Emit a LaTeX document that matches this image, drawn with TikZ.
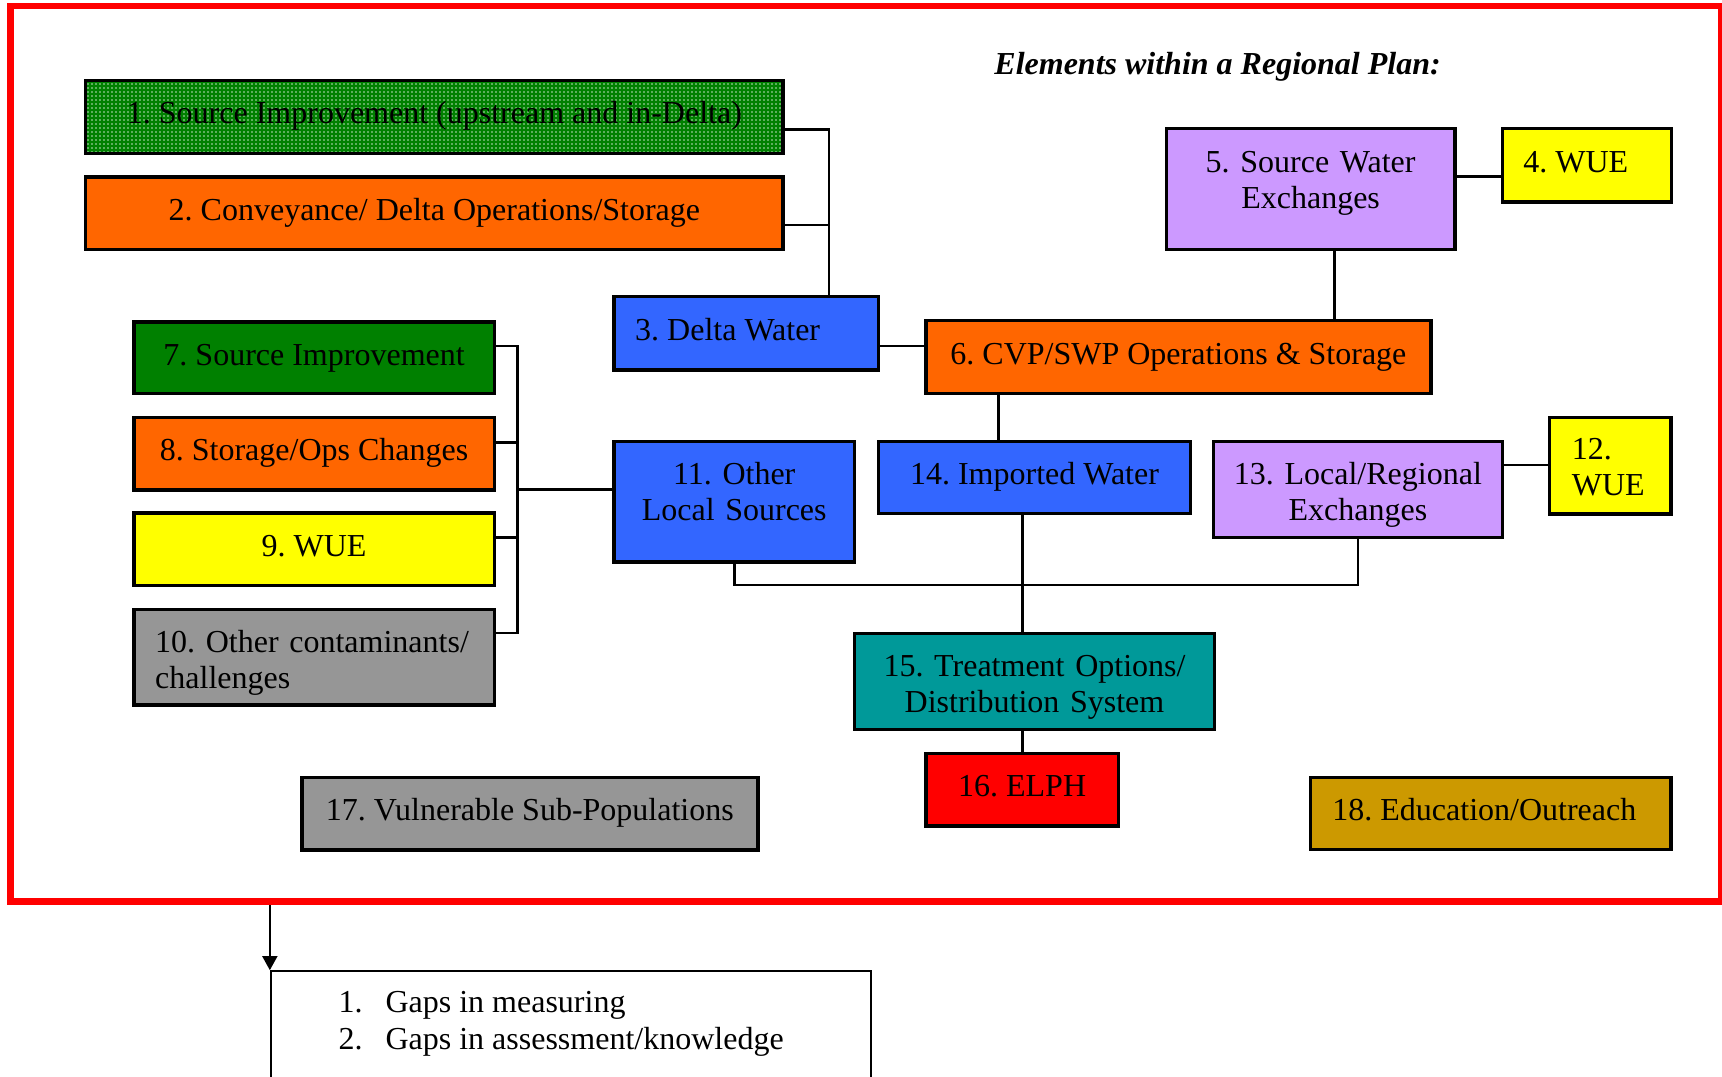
\documentclass[tikz,border=0pt]{standalone}
\usepackage{fontspec}
\setmainfont{Liberation Serif}
\usetikzlibrary{fit,arrows.meta,patterns.meta}
\definecolor{cgreen}{HTML}{008000}
\definecolor{corange}{HTML}{FF6600}
\definecolor{cblue}{HTML}{3366FF}
\definecolor{clav}{HTML}{CC99FF}
\definecolor{cyel}{HTML}{FFFF00}
\definecolor{cgray}{HTML}{969696}
\definecolor{cteal}{HTML}{009999}
\definecolor{cred}{HTML}{FF0000}
\definecolor{cgold}{HTML}{CC9900}
\frenchspacing
\begin{document}
\begin{tikzpicture}[x=0.5pt,y=-0.5pt,
  box/.style={draw=black, line width=1.7pt, inner sep=0pt, rectangle},
  txt/.style={inner sep=0pt, font=\fontsize{16pt}{18pt}\selectfont\frenchspacing},
  conn/.style={draw=black, line width=1.4pt},
  framebox/.style={draw=cred, line width=3.35pt, inner sep=0pt, rectangle},
  botbox/.style={draw=black, line width=0.85pt, inner sep=0pt, rectangle},
  arrowline/.style={draw=black, line width=0.85pt, -{Triangle[width=7.5pt,length=7pt]}}
]
\useasboundingbox (0,0) rectangle (1722,1076);

% frame
\node[framebox, fit={(10.7,6)(1721.5,901.7)}] (frame) {};

% title
\node[txt, anchor=base west] (title) at (994,74) {\bfseries\itshape Elements within a Regional Plan:};

% boxes
\node[box, preaction={fill=cgreen}, pattern={Dots[distance=2pt,radius=0.45pt]}, pattern color=white!75!cgreen, fit={(85.7,80.2)(783,153.7)}] (b1) {};
\node[box, fill=corange, fit={(85.7,176.8)(783,249.3)}] (b2) {};
\node[box, fill=cblue, fit={(613.9,296.5)(878.6,370)}] (b3) {};
\node[box, fill=cyel, fit={(1502.3,128.5)(1671.5,202)}] (b4) {};
\node[box, fill=clav, fit={(1166.3,128.5)(1455,249.3)}] (b5) {};
\node[box, fill=corange, fit={(925.8,320.7)(1431,393.2)}] (b6) {};
\node[box, fill=cgreen, fit={(134,321.8)(494.2,393.2)}] (b7) {};
\node[box, fill=corange, fit={(134,417.3)(494.2,489.8)}] (b8) {};
\node[box, fill=cyel, fit={(134,512.9)(494.2,585.3)}] (b9) {};
\node[box, fill=cgray, fit={(134,609.5)(494.2,705)}] (b10) {};
\node[box, fill=cblue, fit={(613.9,441.5)(854.4,562)}] (b11) {};
\node[box, fill=cyel, fit={(1549.6,417.3)(1671,514)}] (b12) {};
\node[box, fill=clav, fit={(1213.5,441.5)(1502.3,537.3)}] (b13) {};
\node[box, fill=cblue, fit={(878.6,441.5)(1190.5,513.5)}] (b14) {};
\node[box, fill=cteal, fit={(854.4,633.7)(1214.6,729.4)}] (b15) {};
\node[box, fill=cred, fit={(925.8,753.4)(1118.5,825.8)}] (b16) {};
\node[box, fill=cgray, fit={(302,777.5)(757.8,850)}] (b17) {};
\node[box, fill=cgold, fit={(1310.2,777.5)(1671,849.5)}] (b18) {};

% texts
\node[txt, anchor=base] (t1) at (434.4,123.5) {1. Source Improvement (upstream and in-Delta)};
\node[txt, anchor=base] (t2) at (434.4,220) {2. Conveyance/ Delta Operations/Storage};
\node[txt, anchor=base west] (t3) at (634.8,340) {3. Delta Water};
\node[txt, anchor=base west] (t4) at (1523,172) {4. WUE};
\node[txt, anchor=base, text width=130pt, align=center] (t5) at (1310.6,172) {5. Source Water\\Exchanges};
\node[txt, anchor=base] (t6) at (1178.4,364) {6. CVP/SWP Operations \& Storage};
\node[txt, anchor=base] (t7) at (314.1,365) {7. Source Improvement};
\node[txt, anchor=base] (t8) at (314.1,460.5) {8. Storage/Ops Changes};
\node[txt, anchor=base] (t9) at (314.1,556) {9. WUE};
\node[txt, anchor=base west, text width=170pt, align=left] (t10) at (154.8,652.5) {10. Other contaminants/\\challenges};
\node[txt, anchor=base, text width=115pt, align=center] (t11) at (734.2,484) {11. Other\\Local Sources};
\node[txt, anchor=base west, text width=50pt, align=left] (t12) at (1571.5,459.5) {12.\\WUE};
\node[txt, anchor=base, text width=140pt, align=center] (t13) at (1357.9,484) {13. Local/Regional\\Exchanges};
\node[txt, anchor=base] (t14) at (1034.5,484) {14. Imported Water};
\node[txt, anchor=base, text width=170pt, align=center] (t15) at (1034.5,676) {15. Treatment Options/\\Distribution System};
\node[txt, anchor=base] (t16) at (1022.1,796.5) {16. ELPH};
\node[txt, anchor=base] (t17) at (529.9,820.5) {17. Vulnerable Sub-Populations};
\node[txt, anchor=base west] (t18) at (1332,820.5) {18. Education/Outreach};

% connector coordinates
\coordinate (ja) at (829,129.6);
\coordinate (jb) at (829,225);
\coordinate (j36) at (900,346);
\coordinate (j54) at (1480,176.8);
\coordinate (j56) at (1334.7,290);
\coordinate (br7) at (517.7,346);
\coordinate (br8) at (517.7,442.5);
\coordinate (br9) at (517.7,537.3);
\coordinate (br10) at (517.7,633);
\coordinate (br11) at (517.7,489.5);
\coordinate (j614) at (998.6,420);
\coordinate (j1312) at (1525,465);
\coordinate (col) at (1000,585);
\coordinate (j1415) at (1022.1,600);

% connectors
\draw[conn] (b1.east |- ja) -- (ja) -- (ja |- b3.north);
\draw[conn] (b2.east |- jb) -- (jb);
\draw[conn] (b3.east |- j36) -- (b6.west |- j36);
\draw[conn] (b5.east |- j54) -- (b4.west |- j54);
\draw[conn] (b5.south -| j56) -- (b6.north -| j56);
\draw[conn] (b7.east |- br7) -- (br7) -- (br10) -- (b10.east |- br10);
\draw[conn] (b8.east |- br8) -- (br8);
\draw[conn] (b9.east |- br9) -- (br9);
\draw[conn] (br11) -- (b11.west |- br11);
\draw[conn] (b6.south -| j614) -- (b14.north -| j614);
\draw[conn] (b13.east |- j1312) -- (b12.west |- j1312);
\draw[conn] (b11.south) -- (b11.south |- col) -- (b13.south |- col) -- (b13.south);
\draw[conn] (b14.south -| j1415) -- (b15.north -| j1415);
\draw[conn] (b15.south -| b16.north) -- (b16.north);

% bottom box and arrow
\node[botbox, fit={(270.7,971)(870.9,1110)}] (bot) {};
\draw[arrowline] (frame.south -| bot.north west) -- (bot.north west);
\node[txt, anchor=base west, align=left] (gap1) at (338.2,1012) {1.\hspace{11.5pt}Gaps in measuring};
\node[txt, anchor=base west, align=left] (gap2) at (338.2,1049) {2.\hspace{11.5pt}Gaps in assessment/knowledge};
\end{tikzpicture}
\end{document}
